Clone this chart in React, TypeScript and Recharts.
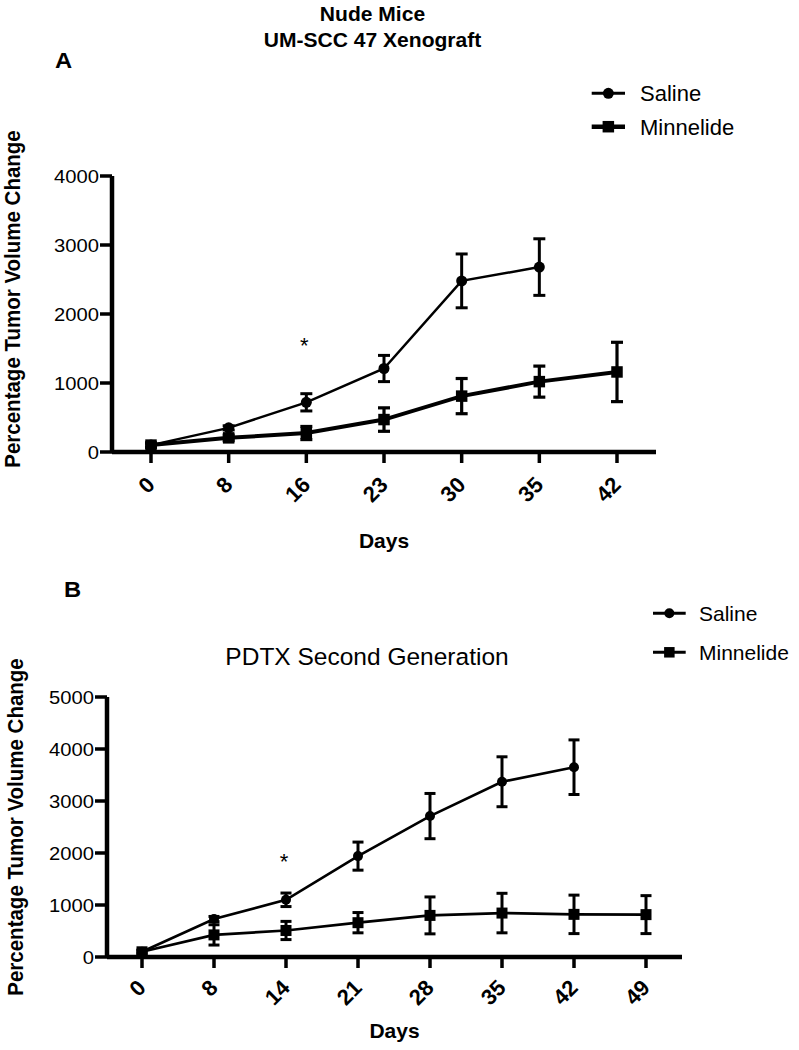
import React from 'react';
import { LineChart, Line, XAxis, YAxis, ErrorBar, ReferenceDot } from 'recharts';

const FONT = '"Liberation Sans", Arial, Helvetica, sans-serif';

// Panel A - UM-SCC 47 xenograft in nude mice
const daysA = ['0', '8', '16', '23', '30', '35', '42'];
const salineA = [100, 350, 720, 1210, 2480, 2680, null];
const salineErrA = [30, 30, 125, 190, 390, 410, null];
const minnelideA = [100, 205, 275, 470, 810, 1020, 1160];
const minnelideErrA = [30, 40, 95, 170, 255, 225, 430];
const yTicksA = [0, 1000, 2000, 3000, 4000];
const starA = { day: '16', value: 1620 };

// Panel B - PDTX second generation
const daysB = ['0', '8', '14', '21', '28', '35', '42', '49'];
const salineB = [100, 730, 1100, 1940, 2710, 3370, 3650, null];
const salineErrB = [30, 50, 130, 270, 435, 480, 525, null];
const minnelideB = [100, 425, 510, 660, 800, 845, 820, 815];
const minnelideErrB = [30, 195, 175, 195, 355, 380, 370, 365];
const yTicksB = [0, 1000, 2000, 3000, 4000, 5000];
const starB = { day: '14', value: 1930 };

const dataA = daysA.map((day, i) => ({
  day,
  saline: salineA[i],
  salineErr: salineErrA[i],
  minnelide: minnelideA[i],
  minnelideErr: minnelideErrA[i],
}));

const dataB = daysB.map((day, i) => ({
  day,
  saline: salineB[i],
  salineErr: salineErrB[i],
  minnelide: minnelideB[i],
  minnelideErr: minnelideErrB[i],
}));

const circleDot = (r: number) => (p: any) => {
  if (p.cx == null || p.cy == null || p.value == null) return <g key={`c${p.index}`} />;
  return <circle key={`c${p.index}`} cx={p.cx} cy={p.cy} r={r} fill="#000" />;
};

const squareDot = (s: number) => (p: any) => {
  if (p.cx == null || p.cy == null || p.value == null) return <g key={`s${p.index}`} />;
  return <rect key={`s${p.index}`} x={p.cx - s / 2} y={p.cy - s / 2} width={s} height={s} fill="#000" />;
};

const xTick = (dy: number) => (props: any) => {
  const { x, y, payload } = props;
  return (
    <g transform={`translate(${x - 6},${y + dy})`}>
      <text transform="rotate(-45)" textAnchor="end" dy="0.72em" fontFamily={FONT} fontWeight="bold" fontSize={22} fill="#000">
        {payload.value}
      </text>
    </g>
  );
};

const yTick = (props: any) => {
  const { x, y, payload } = props;
  return (
    <g transform={`translate(${x},${y}) scale(1.08,1)`}>
      <text textAnchor="end" dy="0.36em" fontFamily={FONT} fontSize={18.7} fill="#000">
        {payload.value}
      </text>
    </g>
  );
};

const StarLabel = (props: any) => {
  const { viewBox } = props;
  if (!viewBox) return null;
  const cx = viewBox.x + (viewBox.width || 0) / 2;
  const cy = viewBox.y + (viewBox.height || 0) / 2;
  return (
    <text x={cx - 2} y={cy} dy="0.57em" textAnchor="middle" fontFamily={FONT} fontSize={22} fill="#000">*</text>
  );
};

const axisLine = { stroke: '#000', strokeWidth: 4.5 };
const tickLine = { stroke: '#000', strokeWidth: 3.5 };
const daysLabel = (offset: number) => ({
  value: 'Days', position: 'bottom' as const, offset, fontSize: 21, fontWeight: 'bold', fill: '#000', fontFamily: FONT,
});

function Txt({ x, y, size, bold, anchor = 'start', sx = 1, children }: any) {
  return (
    <g transform={`translate(${x},${y}) scale(${sx},1)`}>
      <text textAnchor={anchor} fontFamily={FONT} fontSize={size} fontWeight={bold ? 'bold' : 'normal'} fill="#000">
        {children}
      </text>
    </g>
  );
}

function YLabel({ cx, cy }: { cx: number; cy: number }) {
  return (
    <g transform={`translate(${cx},${cy}) rotate(-90) scale(1,1.08)`}>
      <text textAnchor="middle" dy="0.358em" fontFamily={FONT} fontSize={20.5} fontWeight="bold" fill="#000">
        Percentage Tumor Volume Change
      </text>
    </g>
  );
}

function LegendRow({ x1, x2, y, lineW, marker, size, tx, fs, label }: any) {
  const mx = (x1 + x2) / 2;
  return (
    <g>
      <line x1={x1} x2={x2} y1={y} y2={y} stroke="#000" strokeWidth={lineW} />
      {marker === 'circle'
        ? <circle cx={mx} cy={y} r={size / 2} fill="#000" />
        : <rect x={mx - size / 2} y={y - size / 2} width={size} height={size} fill="#000" />}
      <Txt x={tx} y={y + fs * 0.358} size={fs}>{label}</Txt>
    </g>
  );
}

export default function App() {
  return (
    <div style={{ position: 'absolute', left: 0, top: 0, width: 799, height: 1050, background: '#fff' }}>
      <div style={{ position: 'absolute', left: 0, top: 0 }}>
        <LineChart width={799} height={580} data={dataA} margin={{ top: 176, right: 143, bottom: 68, left: 52 }}>
          <XAxis
            dataKey="day"
            interval={0}
            padding={{ left: 39, right: 39 }}
            height={60}
            tickSize={11}
            axisLine={axisLine}
            tickLine={tickLine}
            tick={xTick(10)}
            label={daysLabel(21)}
          />
          <YAxis
            type="number"
            domain={[0, 4000]}
            ticks={yTicksA}
            width={60}
            tickSize={12}
            tickMargin={1}
            axisLine={axisLine}
            tickLine={tickLine}
            tick={yTick}
          />
          <Line type="linear" dataKey="saline" stroke="#000" strokeWidth={2.5} dot={circleDot(5.5)} activeDot={false} isAnimationActive={false}>
            <ErrorBar dataKey="salineErr" direction="y" width={6} stroke="#000" strokeWidth={3} isAnimationActive={false} />
          </Line>
          <Line type="linear" dataKey="minnelide" stroke="#000" strokeWidth={4} dot={squareDot(11.5)} activeDot={false} isAnimationActive={false}>
            <ErrorBar dataKey="minnelideErr" direction="y" width={6} stroke="#000" strokeWidth={3.2} isAnimationActive={false} />
          </Line>
          <ReferenceDot x={starA.day} y={starA.value} r={0} fill="none" stroke="none" label={StarLabel} />
        </LineChart>
      </div>

      <div style={{ position: 'absolute', left: 0, top: 580 }}>
        <LineChart width={799} height={470} data={dataB} margin={{ top: 117, right: 117, bottom: 33, left: 47 }}>
          <XAxis
            dataKey="day"
            interval={0}
            padding={{ left: 35, right: 36 }}
            height={60}
            tickSize={11}
            axisLine={axisLine}
            tickLine={tickLine}
            tick={xTick(8)}
            label={daysLabel(6)}
          />
          <YAxis
            type="number"
            domain={[0, 5000]}
            ticks={yTicksB}
            width={60}
            tickSize={12}
            tickMargin={1}
            axisLine={axisLine}
            tickLine={tickLine}
            tick={yTick}
          />
          <Line type="linear" dataKey="saline" stroke="#000" strokeWidth={2.7} dot={circleDot(5)} activeDot={false} isAnimationActive={false}>
            <ErrorBar dataKey="salineErr" direction="y" width={5.5} stroke="#000" strokeWidth={3} isAnimationActive={false} />
          </Line>
          <Line type="linear" dataKey="minnelide" stroke="#000" strokeWidth={2.7} dot={squareDot(11)} activeDot={false} isAnimationActive={false}>
            <ErrorBar dataKey="minnelideErr" direction="y" width={5.5} stroke="#000" strokeWidth={3} isAnimationActive={false} />
          </Line>
          <ReferenceDot x={starB.day} y={starB.value} r={0} fill="none" stroke="none" label={StarLabel} />
        </LineChart>
      </div>

      <svg width={799} height={1050} style={{ position: 'absolute', left: 0, top: 0, pointerEvents: 'none' }}>
        <Txt x={372.5} y={20.7} size={19.5} bold anchor="middle" sx={1.08}>Nude Mice</Txt>
        <Txt x={372.5} y={47.3} size={19.5} bold anchor="middle" sx={1.08}>UM-SCC 47 Xenograft</Txt>
        <Txt x={55} y={68} size={22} bold sx={1.08}>A</Txt>
        <Txt x={64} y={597} size={22} bold sx={1.08}>B</Txt>
        <Txt x={367} y={665} size={24.5} anchor="middle">PDTX Second Generation</Txt>

        <YLabel cx={12.5} cy={299} />
        <YLabel cx={15.5} cy={827} />

        <LegendRow x1={591.7} x2={625} y={93.3} lineW={3} marker="circle" size={11} tx={640} fs={22} label="Saline" />
        <LegendRow x1={591.7} x2={625} y={126.7} lineW={4.5} marker="square" size={11.5} tx={640} fs={22} label="Minnelide" />
        <LegendRow x1={653} x2={685.7} y={613.3} lineW={3} marker="circle" size={10} tx={699} fs={21} label="Saline" />
        <LegendRow x1={653} x2={685.7} y={652.3} lineW={3} marker="square" size={10.5} tx={699} fs={21} label="Minnelide" />
      </svg>
    </div>
  );
}
